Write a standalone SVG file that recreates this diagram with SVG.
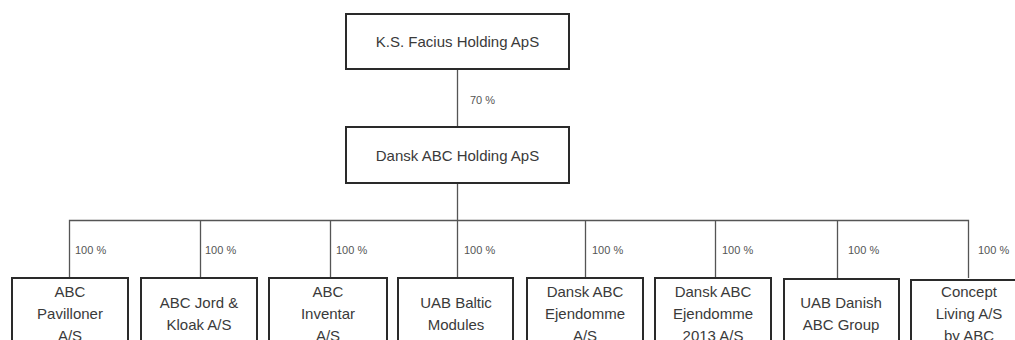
<svg xmlns="http://www.w3.org/2000/svg" width="1015" height="340" viewBox="0 0 1015 340">
<style>
.box{fill:#fff;stroke:#2a2a2a;stroke-width:2}
.t{font-family:"Liberation Sans",Arial,sans-serif;font-size:15px;fill:#3a3a3a;text-anchor:middle}
.p{font-family:"Liberation Sans",Arial,sans-serif;font-size:11px;fill:#555}
.c{stroke:#555;stroke-width:1.3;fill:none}
</style>
<rect width="1015" height="340" fill="#fff"/>
<g id="connectors">
<path class="c" d="M457.5 69V127M457.5 183V220.5M69.5 278V220.5H968.5V278M200.5 220.5V278M330.5 220.5V278M457.5 220.5V278M585.5 220.5V278M715.5 220.5V278M837.5 220.5V278"/>
<text class="p" x="470" y="104">70 %</text>
<text class="p" x="75" y="254">100 %</text>
<text class="p" x="205" y="254">100 %</text>
<text class="p" x="336" y="254">100 %</text>
<text class="p" x="464" y="254">100 %</text>
<text class="p" x="592" y="254">100 %</text>
<text class="p" x="722" y="254">100 %</text>
<text class="p" x="848" y="254">100 %</text>
<text class="p" x="978" y="254">100 %</text>
</g>
<g id="n-facius"><rect class="box" x="346" y="14" width="223" height="55"/><text class="t" x="457.5" y="47">K.S. Facius Holding ApS</text></g>
<g id="n-dansk-holding"><rect class="box" x="346" y="127" width="223" height="56"/><text class="t" x="457.5" y="161">Dansk ABC Holding ApS</text></g>
<g id="n-pavilloner"><rect class="box" x="12" y="278" width="116" height="70"/><text class="t" x="70" y="297">ABC</text><text class="t" x="70" y="319">Pavilloner</text><text class="t" x="70" y="341">A/S</text></g>
<g id="n-jord"><rect class="box" x="141" y="278" width="116" height="70"/><text class="t" x="199" y="308">ABC Jord &amp;</text><text class="t" x="199" y="330">Kloak A/S</text></g>
<g id="n-inventar"><rect class="box" x="269" y="278" width="118" height="70"/><text class="t" x="328" y="297">ABC</text><text class="t" x="328" y="319">Inventar</text><text class="t" x="328" y="341">A/S</text></g>
<g id="n-baltic"><rect class="box" x="398" y="278" width="115" height="70"/><text class="t" x="456" y="308">UAB Baltic</text><text class="t" x="456" y="330">Modules</text></g>
<g id="n-ejendomme"><rect class="box" x="527" y="278" width="116" height="70"/><text class="t" x="585" y="297">Dansk ABC</text><text class="t" x="585" y="319">Ejendomme</text><text class="t" x="585" y="341">A/S</text></g>
<g id="n-ejendomme2013"><rect class="box" x="655" y="278" width="116" height="70"/><text class="t" x="713" y="297">Dansk ABC</text><text class="t" x="713" y="319">Ejendomme</text><text class="t" x="713" y="341">2013 A/S</text></g>
<g id="n-danish-group"><rect class="box" x="784" y="279" width="115" height="70"/><text class="t" x="841" y="308">UAB Danish</text><text class="t" x="841" y="330">ABC Group</text></g>
<g id="n-concept"><rect class="box" x="911" y="280" width="116" height="70"/><text class="t" x="969" y="297">Concept</text><text class="t" x="969" y="319">Living A/S</text><text class="t" x="969" y="341">by ABC</text></g>
</svg>
